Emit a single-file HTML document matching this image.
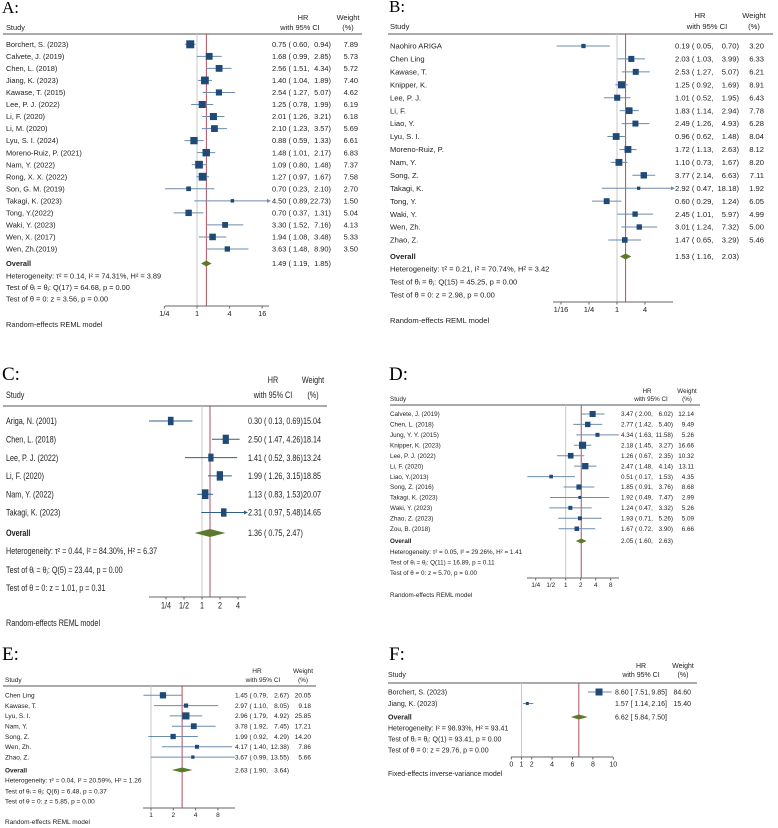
<!DOCTYPE html>
<html><head><meta charset="utf-8">
<style>
html,body{margin:0;padding:0;background:#fff;}
svg{display:block;font-family:"Liberation Sans",Arial,sans-serif;}
text{white-space:pre;fill:#222;}
.lab{font-family:"Liberation Serif",serif;fill:#000;}
</style></head>
<body>
<svg id="fig" width="778" height="828" viewBox="0 0 778 828" xmlns="http://www.w3.org/2000/svg"></svg>
<script>
// ---------- Panel A data ----------
const studiesA=["Borchert, S. (2023)","Calvete, J. (2019)","Chen, L. (2018)","Jiang, K. (2023)","Kawase, T. (2015)","Lee, P. J. (2022)","Li, F. (2020)","Li, M. (2020)","Lyu, S. I. (2024)","Moreno-Ruiz, P. (2021)","Nam, Y. (2022)","Rong, X. X. (2022)","Son, G. M. (2019)","Takagi, K. (2023)","Tong, Y.(2022)","Waki, Y. (2023)","Wen, X. (2017)","Wen, Zh.(2019)"];
const hrA=[0.75,1.68,2.56,1.40,2.54,1.25,2.01,2.10,0.88,1.48,1.09,1.27,0.70,4.50,0.70,3.30,1.94,3.63];
const loA=[0.60,0.99,1.51,1.04,1.27,0.78,1.26,1.23,0.59,1.01,0.80,0.97,0.23,0.89,0.37,1.52,1.08,1.48];
const hiA=[0.94,2.85,4.34,1.89,5.07,1.99,3.21,3.57,1.33,2.17,1.48,1.67,2.10,22.73,1.31,7.16,3.48,8.90];
const wA=[7.89,5.73,5.72,7.40,4.62,6.19,6.18,5.69,6.61,6.83,7.37,7.58,2.70,1.50,5.04,4.13,5.33,3.50];
const overallA=[1.49,1.19,1.85];
const ticksA=[0.25,1,4,16];
const tickLabelsA=["1/4","1","4","16"];
const statsA=["Heterogeneity: τ² = 0.14, I² = 74.31%, H² = 3.89","Test of θᵢ = θⱼ: Q(17) = 64.68, p = 0.00","Test of θ = 0: z = 3.56, p = 0.00"];
// ---------- Panel B data ----------
const studiesB=["Naohiro ARIGA","Chen Ling","Kawase, T.","Knipper, K.","Lee, P. J.","Li, F.","Liao, Y.","Lyu, S. I.","Moreno-Ruiz, P.","Nam, Y.","Song, Z.","Takagi, K.","Tong, Y.","Waki, Y.","Wen, Zh.","Zhao, Z."];
const hrB=[0.19,2.03,2.53,1.25,1.01,1.83,2.49,0.96,1.72,1.10,3.77,2.92,0.60,2.45,3.01,1.47];
const loB=[0.05,1.03,1.27,0.92,0.52,1.14,1.26,0.62,1.13,0.73,2.14,0.47,0.29,1.01,1.24,0.65];
const hiB=[0.70,3.99,5.07,1.69,1.95,2.94,4.93,1.48,2.63,1.67,6.63,18.18,1.24,5.97,7.32,3.29];
const wB=[3.20,6.33,6.21,8.91,6.43,7.78,6.28,8.04,8.12,8.20,7.11,1.92,6.05,4.99,5.00,5.46];
const overallB=[1.53,1.16,2.03];
const ticksB=[0.0625,0.25,1,4];
const tickLabelsB=["1/16","1/4","1","4"];
const statsB=["Heterogeneity: τ² = 0.21, I² = 70.74%, H² = 3.42","Test of θᵢ = θⱼ: Q(15) = 45.25, p = 0.00","Test of θ = 0: z = 2.98, p = 0.00"];
// ---------- Panel C data ----------
const studiesC=["Ariga, N. (2001)","Chen, L. (2018)","Lee, P. J. (2022)","Li, F. (2020)","Nam, Y. (2022)","Takagi, K. (2023)"];
const hrC=[0.30,2.50,1.41,1.99,1.13,2.31];
const loC=[0.13,1.47,0.52,1.26,0.83,0.97];
const hiC=[0.69,4.26,3.86,3.15,1.53,5.48];
const wC=[15.04,18.14,13.24,18.85,20.07,14.65];
const overallC=[1.36,0.75,2.47];
const ticksC=[0.25,0.5,1,2,4];
const tickLabelsC=["1/4","1/2","1","2","4"];
const statsC=["Heterogeneity: τ² = 0.44, I² = 84.30%, H² = 6.37","Test of θᵢ = θⱼ: Q(5) = 23.44, p = 0.00","Test of θ = 0: z = 1.01, p = 0.31"];
// ---------- Panel D data ----------
const studiesD=["Calvete, J. (2019)","Chen, L. (2018)","Jung, Y. Y. (2015)","Knipper, K. (2023)","Lee, P. J. (2022)","Li, F. (2020)","Liao, Y.(2013)","Song, Z. (2016)","Takagi, K. (2023)","Waki, Y. (2023)","Zhao, Z. (2023)","Zou, B. (2018)"];
const hrD=[3.47,2.77,4.34,2.18,1.26,2.47,0.51,1.85,1.92,1.24,1.93,1.67];
const loD=[2.00,1.42,1.63,1.45,0.67,1.48,0.17,0.91,0.49,0.47,0.71,0.72];
const hiD=[6.02,5.40,11.58,3.27,2.35,4.14,1.53,3.76,7.47,3.32,5.26,3.90];
const wD=[12.14,9.49,5.26,16.66,10.32,13.11,4.35,8.68,2.99,5.26,5.09,6.66];
const overallD=[2.05,1.60,2.63];
const ticksD=[0.25,0.5,1,2,4,8];
const tickLabelsD=["1/4","1/2","1","2","4","8"];
const statsD=["Heterogeneity: τ² = 0.05, I² = 29.26%, H² = 1.41","Test of θᵢ = θⱼ: Q(11) = 16.89, p = 0.11","Test of θ = 0: z = 5.70, p = 0.00"];
// ---------- Panel E data ----------
const studiesE=["Chen Ling","Kawase, T.","Lyu, S. I.","Nam, Y.","Song, Z.","Wen, Zh.","Zhao, Z."];
const hrE=[1.45,2.97,2.96,3.78,1.99,4.17,3.67];
const loE=[0.79,1.10,1.79,1.92,0.92,1.40,0.99];
const hiE=[2.67,8.05,4.92,7.45,4.29,12.38,13.55];
const wE=[20.05,9.18,25.85,17.21,14.20,7.86,5.66];
const overallE=[2.63,1.90,3.64];
const ticksE=[1,2,4,8];
const tickLabelsE=["1","2","4","8"];
const statsE=["Heterogeneity: τ² = 0.04, I² = 20.59%, H² = 1.26","Test of θᵢ = θⱼ: Q(6) = 6.48, p = 0.37","Test of θ = 0: z = 5.85, p = 0.00"];
// ---------- Panel F data ----------
const studiesF=["Borchert, S. (2023)","Jiang, K. (2023)"];
const hrF=[8.60,1.57];
const loF=[7.51,1.14];
const hiF=[9.85,2.16];
const wF=[84.60,15.40];
const overallF=[6.62,5.84,7.50];
const ticksF=[0,1,2,4,6,8,10];
const tickLabelsF=["0","1","2","4","6","8","10"];
const statsF=["Heterogeneity: I² = 98.93%, H² = 93.41","Test of θᵢ = θⱼ: Q(1) = 93.41, p = 0.00","Test of θ = 0: z = 29.76, p = 0.00"];

const NS="http://www.w3.org/2000/svg";
const fig=document.getElementById('fig');
function mk(parent,tag,attrs,txt){const e=document.createElementNS(NS,tag);for(const k in attrs)e.setAttribute(k,attrs[k]);if(txt!==undefined)e.textContent=txt;parent.appendChild(e);return e;}
const f2=v=>v.toFixed(2);

function drawPanel(P){
  const g=mk(fig,'g',{});
  
  
  const fs=P.fs, ff=P.ff||'"Liberation Sans",Arial,sans-serif';
  const xs=v=>P.log? P.x1+Math.log2(v)*P.k : P.x1+v*P.k;
  const lab=mk(g,'text',{x:P.labX,y:P.labY,class:'lab','font-size':P.labFs},P.id+':');
  
  
  const tg=mk(g,'g',{'font-family':ff,'font-size':fs});
  let t=mk(tg,'text',{x:P.studyX,y:P.hy2},'Study');
  
  t=mk(tg,'text',{x:P.hrX,y:P.hy1,'text-anchor':'middle'},'HR');
  
  t=mk(tg,'text',{x:P.ciX,y:P.hy2,'text-anchor':'middle'},'with 95% CI');
  
  t=mk(tg,'text',{x:P.wX,y:P.hy1,'text-anchor':'middle'},'Weight');
  
  t=mk(tg,'text',{x:P.wX,y:P.hy2,'text-anchor':'middle'},'(%)');
  
  const hl=mk(g,'line',{x1:P.lineX1,x2:P.lineX2,y1:P.lineY,y2:P.lineY,stroke:'#555','stroke-width':1});
  
  const nl=mk(g,'line',{x1:xs(1),x2:xs(1),y1:P.lineY,y2:P.axY,stroke:'#c8c8c8','stroke-width':1});
  
  const ol=mk(g,'line',{x1:xs(P.ov[0]),x2:xs(P.ov[0]),y1:P.lineY,y2:P.axY,stroke:'#b0505e','stroke-width':1});
  
  const open=P.bracket?'[':'(', close=P.bracket?']':')';
  function vals(h,l,u,y,nm){
    if(P.single){
      const tt=mk(tg,'text',{x:P.valX,y:y},f2(h)+' '+open+' '+f2(l)+', '+f2(u)+close);
      
    } else {
      let tt=mk(tg,'text',{x:P.valX,y:y},f2(h)+' '+open+' '+f2(l)+',');
      
      tt=mk(tg,'text',{x:P.hiR,y:y,'text-anchor':'end'},f2(u)+close);
      
    }
  }
  for(let i=0;i<P.st.length;i++){
    const y=P.y0+i*P.dy;
    t=mk(tg,'text',{x:P.studyX,y:y+fs*0.35},P.st[i]);
    
    let a=Math.max(xs(P.lo[i]),P.axX1), b=Math.min(xs(P.hi[i]),P.axX2);
    const ci=mk(g,'line',{x1:a,x2:b,y1:y,y2:y,stroke:P.ciCol,'stroke-width':1});
    
    if(xs(P.hi[i])>P.axX2){
      const ar=mk(g,'path',{d:`M${P.axX2+2},${y} l-4,-2 v4 z`,fill:P.ciCol});
      
    }
    const s=Math.sqrt(P.w[i])*P.sq, sh=s*(P.sqAsp||1);
    const r=mk(g,'rect',{x:xs(P.hr[i])-s/2,y:y-sh/2,width:s,height:sh,fill:'#1f4a78'});
    
    vals(P.hr[i],P.lo[i],P.hi[i],y+fs*0.35,'hr-value');
    t=mk(tg,'text',{x:P.wR,y:y+fs*0.35,'text-anchor':'end'},f2(P.w[i]));
    
  }
  const oy=P.oy;
  t=mk(tg,'text',{x:P.studyX,y:oy+fs*0.35,'font-weight':'bold'},'Overall');
  
  const dm=mk(g,'path',{d:`M${xs(P.ov[1])},${oy} L${xs(P.ov[0])},${oy-P.dh} L${xs(P.ov[2])},${oy} L${xs(P.ov[0])},${oy+P.dh} Z`,fill:'#5b7a2c'});
  
  vals(P.ov[0],P.ov[1],P.ov[2],oy+fs*0.35,'overall-hr-value');
  for(let j=0;j<P.stats.length;j++){
    t=mk(tg,'text',{x:P.studyX,y:P.sy[j]+fs*0.35},P.stats[j]);
    
  }
  const ax=mk(g,'line',{x1:P.axX1,x2:P.axX2,y1:P.axY,y2:P.axY,stroke:'#666','stroke-width':1});
  
  for(let j=0;j<P.ticks.length;j++){
    const x=xs(P.ticks[j]);
    const tk=mk(g,'line',{x1:x,x2:x,y1:P.axY,y2:P.axY+2.5,stroke:'#666','stroke-width':1});
    
    t=mk(tg,'text',{x:x,y:P.axY+2.5+fs,'text-anchor':'middle'},P.tl[j]);
    
  }
  t=mk(tg,'text',{x:P.studyX,y:P.mY},P.model);
  
  if(P.narrow){
    tg.querySelectorAll('text').forEach(el=>{
      const L=el.getComputedTextLength();
      if(L>0){el.setAttribute('textLength',(L*P.narrow).toFixed(2));el.setAttribute('lengthAdjust','spacingAndGlyphs');}
    });
  }
}

drawPanel({id:'A',fs:7.4,labX:2,labY:13,labFs:17,studyX:6,hy1:20,hy2:30,hrX:303,ciX:300,wX:348,lineX1:3,lineX2:362,lineY:34,
 st:studiesA,hr:hrA,lo:loA,hi:hiA,w:wA,ov:overallA,ticks:ticksA,tl:tickLabelsA,stats:statsA,
 log:true,x1:197,k:16.3,y0:44.3,dy:12.04,oy:263.5,sy:[276,287.5,299],axY:306,axX1:165,axX2:269,
 valX:272,hiR:331,wR:358,sq:2.85,dh:3,ciCol:'#6d8bab',mY:327,model:'Random-effects REML model'});
drawPanel({id:'B',fs:7.6,labX:389,labY:12,labFs:17,studyX:390,hy1:18,hy2:29,hrX:700,ciX:707,wX:754,lineX1:388,lineX2:773,lineY:34,
 st:studiesB,hr:hrB,lo:loB,hi:hiB,w:wB,ov:overallB,ticks:ticksB,tl:tickLabelsB,stats:statsB,
 log:true,x1:617,k:14,y0:46,dy:12.93,oy:256.5,sy:[269,282,295],axY:302,axX1:553,axX2:673,
 valX:675,hiR:739,wR:764,sq:2.4,dh:3,ciCol:'#6d8bab',mY:323,model:'Random-effects REML model'});
drawPanel({id:'C',fs:9,narrow:0.8,single:true,labX:2,labY:380,labFs:19,studyX:6,hy1:383,hy2:398,hrX:273,ciX:273,wX:313,lineX1:3,lineX2:327,lineY:406,
 st:studiesC,hr:hrC,lo:loC,hi:hiC,w:wC,ov:overallC,ticks:ticksC,tl:tickLabelsC,stats:statsC,
 log:true,x1:202,k:18,y0:421,dy:18.3,oy:533,sy:[551,570,588],axY:597,axX1:149,axX2:246,
 valX:248,hiR:299,wR:321,sq:1.45,sqAsp:1.5,dh:4,ciCol:'#2f5f8a',mY:626,model:'Random-effects REML model'});
drawPanel({id:'D',fs:6.3,labX:389,labY:380,labFs:19,studyX:390,hy1:393,hy2:401,hrX:647,ciX:651,wX:687,lineX1:390,lineX2:700,lineY:405,
 st:studiesD,hr:hrD,lo:loD,hi:hiD,w:wD,ov:overallD,ticks:ticksD,tl:tickLabelsD,stats:statsD,
 log:true,x1:565.7,k:15,y0:414,dy:10.43,oy:541,sy:[552,562.5,573],axY:578,axX1:527,axX2:619,
 valX:621,hiR:673,wR:694,sq:1.75,dh:2.5,ciCol:'#6d8bab',mY:597,model:'Random-effects REML model'});
drawPanel({id:'E',fs:6.5,labX:2,labY:660,labFs:19,studyX:5,hy1:673,hy2:682,hrX:257,ciX:263,wX:303,lineX1:3,lineX2:316,lineY:686,
 st:studiesE,hr:hrE,lo:loE,hi:hiE,w:wE,ov:overallE,ticks:ticksE,tl:tickLabelsE,stats:statsE,
 log:true,x1:151,k:22.3,y0:695.3,dy:10.3,oy:770,sy:[780,791,801],axY:808,axX1:143,axX2:235,
 valX:235,hiR:289,wR:311,sq:1.4,dh:2.5,ciCol:'#6d8bab',mY:824,model:'Random-effects REML model'});
drawPanel({id:'F',fs:7,labX:389,labY:660,labFs:19,studyX:388,hy1:668,hy2:677,hrX:641,ciX:641,wX:683,lineX1:388,lineX2:697,lineY:683,
 st:studiesF,hr:hrF,lo:loF,hi:hiF,w:wF,ov:overallF,ticks:ticksF,tl:tickLabelsF,stats:statsF,bracket:true,
 log:false,x1:511.3,k:10.2,y0:692,dy:11.5,oy:717,sy:[728,739,750],axY:757,axX1:511,axX2:613,
 valX:615,hiR:667,wR:691,sq:0.76,dh:2.5,ciCol:'#6d8bab',mY:776,model:'Fixed-effects inverse-variance model'});
</script>
</body></html>
